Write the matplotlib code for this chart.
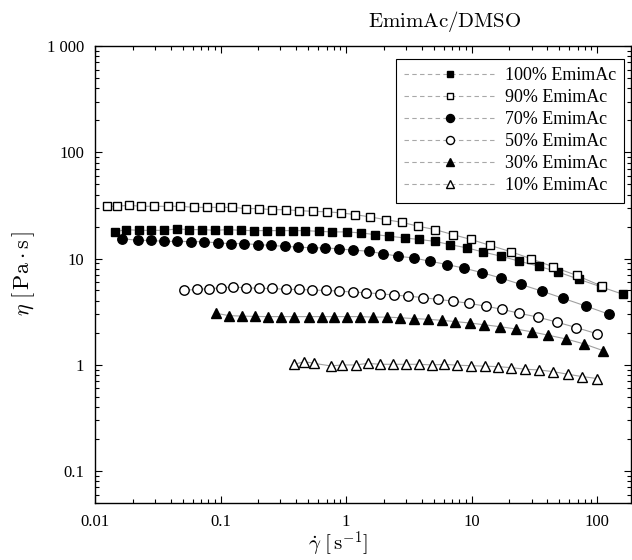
"""
Viscosity curves for EmimAc/DMSO mixtures (log-log flow curves).
Writes: out.png
"""

import matplotlib
matplotlib.use("Agg")
import matplotlib.pyplot as plt
from matplotlib.lines import Line2D
from matplotlib.ticker import FixedLocator, FixedFormatter

plt.rcParams["font.family"] = ["Liberation Serif", "DejaVu Serif"]
plt.rcParams["mathtext.fontset"] = "cm"

# shear rate [1/s] and viscosity [Pa s]
rate_100 = [0.0143, 0.0176, 0.0224, 0.0279, 0.0355, 0.0448, 0.0564, 0.0716, 0.0903,
            0.115, 0.146, 0.186, 0.236, 0.298, 0.380, 0.471, 0.612, 0.778, 1.01,
            1.31, 1.70, 2.21, 2.95, 3.82, 5.12, 6.74, 9.16, 12.4, 17.2, 24.0,
            34.1, 49.2, 72.3, 108, 162]
eta_100 = [17.8, 18.7, 18.4, 18.4, 18.4, 19.0, 18.7, 18.7, 18.4, 18.7, 18.4, 18.3,
           18.3, 18.3, 18.3, 18.3, 18.0, 17.8, 17.8, 17.4, 16.8, 16.2, 15.6, 15.1,
           14.5, 13.5, 12.6, 11.5, 10.5, 9.43, 8.47, 7.44, 6.35, 5.40, 4.59]

rate_90 = [0.0124, 0.0149, 0.0187, 0.0233, 0.0295, 0.0379, 0.0475, 0.0615, 0.0776,
           0.0991, 0.124, 0.159, 0.203, 0.257, 0.331, 0.422, 0.546, 0.701, 0.908,
           1.18, 1.55, 2.08, 2.78, 3.77, 5.12, 7.08, 9.9, 14.0, 20.5, 29.8, 44.6,
           68.9, 109]
eta_90 = [31.0, 31.0, 31.7, 31.0, 31.0, 31.0, 31.0, 30.3, 30.3, 30.3, 30.3, 29.5,
          29.5, 28.8, 28.8, 28.2, 27.8, 27.5, 26.9, 25.9, 24.6, 23.2, 21.9, 20.1,
          18.7, 16.8, 15.1, 13.3, 11.6, 9.94, 8.36, 6.92, 5.49]

rate_70 = [0.0165, 0.0219, 0.0279, 0.0355, 0.0453, 0.0582, 0.0743, 0.0951, 0.121,
           0.155, 0.198, 0.252, 0.327, 0.417, 0.533, 0.681, 0.885, 1.14, 1.51,
           1.96, 2.61, 3.48, 4.67, 6.34, 8.71, 12.2, 17.2, 24.7, 36.3, 53.9,
           81.7, 125]
eta_70 = [15.4, 14.8, 14.8, 14.5, 14.5, 14.4, 14.4, 14.0, 13.8, 13.8, 13.5, 13.3,
          13.0, 12.8, 12.6, 12.6, 12.3, 12.0, 11.7, 11.1, 10.5, 10.1, 9.43, 8.78,
          8.11, 7.34, 6.53, 5.70, 4.93, 4.21, 3.56, 2.98]

rate_50 = [0.0512, 0.0646, 0.0809, 0.101, 0.125, 0.159, 0.203, 0.259, 0.331, 0.422,
           0.539, 0.689, 0.885, 1.13, 1.44, 1.87, 2.43, 3.13, 4.13, 5.38, 7.16,
           9.55, 13.0, 17.6, 24.0, 33.7, 47.7, 68.0, 99.5]
eta_50 = [5.01, 5.12, 5.19, 5.31, 5.38, 5.31, 5.23, 5.23, 5.12, 5.12, 5.04, 5.01,
          4.93, 4.83, 4.76, 4.66, 4.52, 4.43, 4.28, 4.12, 3.97, 3.78, 3.56, 3.32,
          3.05, 2.81, 2.52, 2.24, 1.96]

rate_30 = [0.092, 0.117, 0.148, 0.188, 0.239, 0.303, 0.386, 0.510, 0.640, 0.807,
           1.01, 1.29, 1.65, 2.11, 2.69, 3.50, 4.48, 5.79, 7.39, 9.72, 12.6, 16.9,
           22.6, 30.2, 40.5, 56.4, 78.8, 111]
eta_30 = [3.05, 2.90, 2.87, 2.85, 2.84, 2.84, 2.84, 2.84, 2.84, 2.84, 2.84, 2.84,
          2.81, 2.81, 2.77, 2.72, 2.68, 2.62, 2.55, 2.47, 2.38, 2.28, 2.17, 2.04,
          1.90, 1.75, 1.57, 1.36]

rate_10 = [0.386, 0.466, 0.558, 0.758, 0.935, 1.19, 1.49, 1.87, 2.38, 3.01, 3.82,
           4.82, 6.07, 7.7, 9.9, 12.7, 16.2, 20.6, 26.7, 34.1, 44.4, 58.4, 75.5, 100]
eta_10 = [1.01, 1.07, 1.03, 0.975, 0.996, 0.996, 1.03, 1.01, 1.01, 1.01, 1.01, 0.996,
          1.01, 0.99, 0.98, 0.97, 0.96, 0.94, 0.908, 0.894, 0.863, 0.814, 0.775, 0.742]

labels = ["100% EmimAc", "90% EmimAc", "70% EmimAc",
          "50% EmimAc", "30% EmimAc", "10% EmimAc"]

x_ticks = [0.01, 0.1, 1, 10, 100]
x_tick_labels = ["0.01", "0.1", "1", "10", "100"]
y_ticks = [0.1, 1, 10, 100, 1000]
y_tick_labels = ["0.1", "1", "10", "100", "1 000"]


def main():
    series = [
        (rate_100, eta_100, "s", "black", 5.8),
        (rate_90, eta_90, "s", "white", 5.8),
        (rate_70, eta_70, "o", "black", 6.8),
        (rate_50, eta_50, "o", "white", 6.8),
        (rate_30, eta_30, "^", "black", 7.0),
        (rate_10, eta_10, "^", "white", 7.0),
    ]

    fig = plt.figure(figsize=(6.32, 5.6), dpi=100)
    ax = fig.add_axes([95 / 632, 1 - 503 / 560, 536 / 632, 457 / 560])

    handles = []
    for (x, y, mk, face, ms), lab in zip(series, labels):
        ax.plot(x, y, color="#a0a0a0", lw=0.8, zorder=1)
        ax.plot(x, y, ls="none", marker=mk, ms=ms, mfc=face, mec="black",
                mew=1.0, zorder=2)
        handles.append(Line2D([], [], color="#a8a8a8", lw=0.8, ls=(0, (4, 3)),
                              marker=mk, ms=ms * 0.85, mfc=face, mec="black",
                              mew=1.0, label=lab))

    ax.set_xscale("log")
    ax.set_yscale("log")
    ax.set_xlim(0.01, 186)
    ax.set_ylim(0.05, 1000)

    ax.xaxis.set_major_locator(FixedLocator(x_ticks))
    ax.xaxis.set_major_formatter(FixedFormatter(x_tick_labels))
    ax.yaxis.set_major_locator(FixedLocator(y_ticks))
    ax.yaxis.set_major_formatter(FixedFormatter(y_tick_labels))
    ax.tick_params(which="both", direction="in", top=True, right=True,
                   labelsize=12, width=0.8)
    ax.tick_params(which="major", length=5, pad=8)
    ax.tick_params(which="minor", length=3)
    for sp in ax.spines.values():
        sp.set_linewidth(1.0)

    fig.text(338 / 632, 1 / 560, r"$\dot{\gamma}\ [\,\mathrm{s}^{-1}]$",
             ha="center", va="bottom", fontsize=15)
    fig.text(24 / 632, 1 - 274 / 560, r"$\eta\ [\,\mathrm{Pa}\cdot\mathrm{s}\,]$",
             ha="center", va="center", rotation=90, fontsize=16)
    fig.text(445 / 632, 1 - 22 / 560, r"$\mathrm{EmimAc/DMSO}$",
             ha="center", va="center", fontsize=15)

    leg = ax.legend(handles=handles, loc="upper right",
                    bbox_to_anchor=(624 / 632, 1 - 59 / 560),
                    bbox_transform=fig.transFigure, borderaxespad=0,
                    fontsize=13, handlelength=5.1, handletextpad=0.45,
                    labelspacing=0.28, borderpad=0.45, fancybox=False,
                    framealpha=1, edgecolor="black")
    leg.get_frame().set_linewidth(0.8)

    fig.savefig("out.png", dpi=100)


if __name__ == "__main__":
    main()
